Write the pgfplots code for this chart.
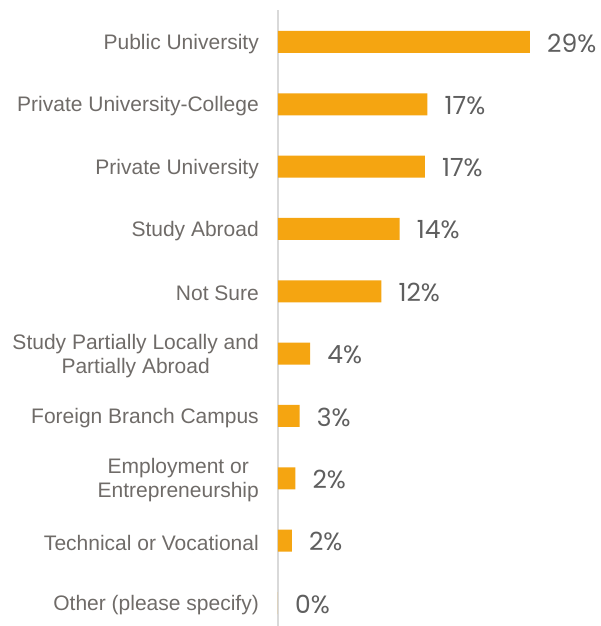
\documentclass[border=0pt]{standalone}
\usepackage{pgfplots}
\pgfplotsset{compat=1.18}
\usepackage{fontspec}
\setmainfont{Liberation Sans}
\newfontfamily\valfont{Poppins}
\definecolor{barorange}{HTML}{F5A511}
\definecolor{labgray}{HTML}{6F6B68}
\definecolor{valgray}{HTML}{5F5F5F}
\definecolor{axgray}{HTML}{D9D9D9}

\begin{document}
\begin{tikzpicture}
\begin{axis}[
    name=ax,
    at={(0,0)}, anchor=south west,
    scale only axis,
    width=312.8pt, height=616pt,
    xbar, bar width=22pt, bar shift=0pt,
    xmin=0, xmax=36,
    ymin=-0.513, ymax=9.369,
    y dir=reverse,
    hide x axis,
    axis y line=left,
    y axis line style={-, draw=axgray, line width=1.2pt},
    ytick={0,...,9},
    yticklabels={Public University, Private University-College, Private University,
        Study Abroad, Not Sure, {Study Partially Locally and\\Partially Abroad},
        Foreign Branch Campus, {Employment or\\Entrepreneurship},
        Technical or Vocational, Other (please specify)},
    yticklabel style={align=center, anchor=east, inner sep=0pt, xshift=-19pt, yshift=-2pt,
        font=\fontsize{21}{24}\selectfont, text=labgray},
    major tick length=0pt,
    point meta=explicit symbolic,
    nodes near coords,
    nodes near coords style={anchor=west, inner sep=0pt, xshift=17pt, yshift=-1pt,
        font=\valfont\fontsize{25}{28}\selectfont, text=valgray},
]
\addplot[fill=barorange, draw=none] coordinates {
    (29.0,0) [29\%]
    (17.2,1) [17\%]
    (16.9,2) [17\%]
    (14.0,3) [14\%]
    (11.9,4) [12\%]
    (3.7,5) [4\%]
    (2.5,6) [3\%]
    (2.0,7) [2\%]
    (1.6,8) [2\%]
    (0.0,9) [0\%]
};
\end{axis}
\pgfresetboundingbox
\path[use as bounding box] ([xshift=-278pt]ax.south west) rectangle ([xshift=-278pt+601pt, yshift=10pt]ax.north west);
\end{tikzpicture}
\end{document}
